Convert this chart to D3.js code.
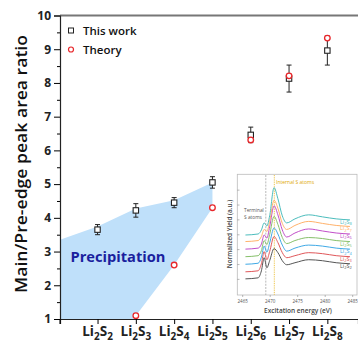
<!DOCTYPE html>
<html>
<head>
<meta charset="utf-8">
<script src="https://cdn.jsdelivr.net/npm/d3@7"></script>
<style>
  body { margin: 0; background: #fff; }
  svg { display: block; font-family: "Open Sans", sans-serif; }
</style>
</head>
<body>
<script>
// main chart data
var categories = ["S2", "S3", "S4", "S5", "S6", "S7", "S8"];
var thisWork = [3.65, 4.22, 4.45, 5.05, 6.46, 8.13, 8.96];
var thisWorkErr = [0.15, 0.2, 0.15, 0.17, 0.23, 0.4, 0.43];
var theory = [null, 1.1, 2.6, 4.3, 6.31, 8.21, 9.33];
var precipitation = [[-0.98, 3.35], [0, 3.74], [1, 4.28], [2, 4.52], [3, 5.05], [3, 4.3], [2, 2.6], [1, 1.1], [0.93, 1], [-0.98, 1]];
var yMajor = [1, 2, 3, 4, 5, 6, 7, 8, 9, 10];
var yMinor = [1.5, 2.5, 3.5, 4.5, 5.5, 6.5, 7.5, 8.5, 9.5];

// inset (XANES spectra) data
var energy = [2465.5, 2467.8, 2468.4, 2468.9, 2469.4, 2469.9, 2470.7, 2471.4, 2472.2, 2473.0, 2474.5, 2477.0, 2479.5, 2482.0, 2484.5];
var yieldS2 = [1.6, 1.7, 2.4, 3.7, 2.7, 3.4, 4.6, 4.2, 3.4, 3.0, 3.2, 3.5, 3.4, 3.2, 3.1];
var yieldS3 = [2.3, 2.4, 3.1, 4.3, 3.5, 4.3, 5.8, 5.2, 4.2, 3.7, 3.9, 4.2, 4.1, 3.9, 3.8];
var yieldS4 = [3.05, 3.15, 3.75, 4.85, 4.25, 5.15, 6.65, 6.05, 4.95, 4.35, 4.65, 4.95, 4.85, 4.65, 4.55];
var yieldS5 = [3.8, 3.9, 4.4, 5.4, 5.0, 6.0, 7.8, 7.0, 5.7, 5.1, 5.4, 5.7, 5.6, 5.4, 5.3];
var yieldS6 = [4.55, 4.65, 5.05, 5.95, 5.65, 6.75, 8.85, 7.95, 6.45, 5.75, 6.15, 6.55, 6.35, 6.15, 6.05];
var yieldS7 = [5.3, 5.4, 5.8, 6.5, 6.3, 7.3, 9.4, 8.6, 7.1, 6.5, 6.9, 7.3, 7.1, 6.9, 6.8];
var yieldS8 = [5.95, 6.05, 6.45, 7.15, 6.85, 7.85, 10.65, 9.55, 7.85, 7.15, 7.55, 7.95, 7.75, 7.55, 7.45];
var insetSeries = [
  { name: "S2", values: yieldS2, color: "#555555" },
  { name: "S3", values: yieldS3, color: "#e0575a" },
  { name: "S4", values: yieldS4, color: "#3fa9e6" },
  { name: "S5", values: yieldS5, color: "#86c06a" },
  { name: "S6", values: yieldS6, color: "#c24fc9" },
  { name: "S7", values: yieldS7, color: "#ffb26b" },
  { name: "S8", values: yieldS8, color: "#4cbdbd" }
];
var insetXTicks = [2465, 2470, 2475, 2480, 2485];
var insetYTicks = [1.55, 3.02, 4.5, 5.97, 7.45, 8.92, 10.4];

var W = 358, H = 347;
var svg = d3.select("body").append("svg").attr("width", W).attr("height", H);

var x = d3.scaleLinear().domain([-0.98, 6.8]).range([60, 358]);
var y = d3.scaleLinear().domain([1, 10]).range([319, 15.5]);

// precipitation area
svg.append("path")
  .datum(precipitation)
  .attr("d", d3.line().x(function(d){ return x(d[0]); }).y(function(d){ return y(d[1]); }))
  .attr("fill", "#bfe0fa")
  .attr("stroke", "none");

svg.append("text")
  .attr("x", 118).attr("y", 262)
  .attr("text-anchor", "middle")
  .attr("font-size", 15).attr("font-weight", 700)
  .attr("fill", "#1a1f9e")
  .attr("textLength", 95).attr("lengthAdjust", "spacingAndGlyphs")
  .text("Precipitation");

// top frame line
svg.append("line")
  .attr("x1", 60).attr("x2", W).attr("y1", y(10)).attr("y2", y(10))
  .attr("stroke", "#777").attr("stroke-width", 2);

// y axis
var yAxis = svg.append("g").attr("transform", "translate(60,0)")
  .call(d3.axisLeft(y).tickValues(yMajor).tickSize(6).tickPadding(3).tickFormat(d3.format("d")));
svg.append("g").attr("transform", "translate(60,0)")
  .call(d3.axisLeft(y).tickValues(yMinor).tickSize(3).tickFormat(""))
  .select(".domain").remove();
yAxis.selectAll("text").attr("font-size", 12).attr("font-weight", 700).attr("fill", "#222")
  .attr("font-family", "Open Sans");

// x axis
var xAxis = svg.append("g").attr("transform", "translate(0," + y(1) + ")")
  .call(d3.axisBottom(x).tickValues(d3.range(categories.length)).tickSize(5).tickFormat(""));
svg.append("line").attr("x1", 60).attr("x2", 60).attr("y1", y(1)).attr("y2", y(1) + 5).attr("stroke", "#000");
svg.selectAll("g .domain").attr("stroke", "#222").attr("stroke-width", 1.2);

var catLabel = svg.append("g").selectAll("text").data(categories).enter().append("text")
  .attr("x", function(d, i){ return x(i); })
  .attr("y", 336)
  .attr("text-anchor", "middle")
  .attr("font-size", 13.5).attr("font-weight", 700).attr("fill", "#222");
catLabel.append("tspan").text("Li");
catLabel.append("tspan").attr("font-size", 10).attr("dy", 4).text("2");
catLabel.append("tspan").attr("dy", -4).text("S");
catLabel.append("tspan").attr("font-size", 10).attr("dy", 4).text(function(d){ return d.slice(1); });

// y label
svg.append("text")
  .attr("transform", "translate(27,164) rotate(-90)")
  .attr("text-anchor", "middle")
  .attr("font-size", 16).attr("font-weight", 600).attr("fill", "#111")
  .attr("textLength", 258).attr("lengthAdjust", "spacingAndGlyphs")
  .text("Main/Pre-edge peak area ratio");

// error bars
var eb = svg.append("g").selectAll("g").data(thisWork).enter().append("g").attr("stroke", "#222").attr("stroke-width", 1);
eb.append("line")
  .attr("x1", function(d, i){ return x(i); }).attr("x2", function(d, i){ return x(i); })
  .attr("y1", function(d, i){ return y(d + thisWorkErr[i]); })
  .attr("y2", function(d, i){ return y(d - thisWorkErr[i]); });
[1, -1].forEach(function(s){
  eb.append("line")
    .attr("x1", function(d, i){ return x(i) - 2.5; }).attr("x2", function(d, i){ return x(i) + 2.5; })
    .attr("y1", function(d, i){ return y(d + s * thisWorkErr[i]); })
    .attr("y2", function(d, i){ return y(d + s * thisWorkErr[i]); });
});

// squares
svg.append("g").selectAll("rect").data(thisWork).enter().append("rect")
  .attr("x", function(d, i){ return x(i) - 2.7; })
  .attr("y", function(d){ return y(d) - 2.7; })
  .attr("width", 5.4).attr("height", 5.4)
  .attr("fill", "#fff").attr("stroke", "#222").attr("stroke-width", 1.1);

// theory circles
svg.append("g").selectAll("circle").data(theory).enter()
  .filter(function(d){ return d != null; })
  .append("circle")
  .attr("cx", function(d){ return x(theory.indexOf(d)); })
  .attr("cy", function(d){ return y(d); })
  .attr("r", 2.8)
  .attr("fill", "#fff").attr("stroke", "#e8262a").attr("stroke-width", 1.3);

// legend
svg.append("rect").attr("x", 68.5).attr("y", 28).attr("width", 5).attr("height", 5)
  .attr("fill", "#fff").attr("stroke", "#222").attr("stroke-width", 1);
svg.append("circle").attr("cx", 71).attr("cy", 49.5).attr("r", 2.5)
  .attr("fill", "#fff").attr("stroke", "#e8262a").attr("stroke-width", 1.2);
svg.append("text").attr("x", 83).attr("y", 35).attr("font-size", 11.5).attr("font-weight", 600).attr("fill", "#111").text("This work");
svg.append("text").attr("x", 83).attr("y", 54).attr("font-size", 11.5).attr("font-weight", 600).attr("fill", "#111").text("Theory");

// ---------- inset ----------
var ix = d3.scaleLinear().domain([2465, 2485]).range([242.7, 352.7]);
var iy = d3.scaleLinear().domain([0, 12]).range([295, 174]);
var inset = svg.append("g");
inset.append("rect").attr("x", 237.3).attr("y", 174.3).attr("width", 119.7).attr("height", 120.7)
  .attr("fill", "#fff").attr("stroke", "#bbb").attr("stroke-width", 0.8);

inset.selectAll(".ytick").data(insetYTicks).enter().append("line")
  .attr("x1", 237.3).attr("x2", 239.5)
  .attr("y1", function(d){ return iy(d); }).attr("y2", function(d){ return iy(d); })
  .attr("stroke", "#888").attr("stroke-width", 0.6);
inset.selectAll(".xtick").data(insetXTicks).enter().append("line")
  .attr("x1", function(d){ return ix(d); }).attr("x2", function(d){ return ix(d); })
  .attr("y1", 295).attr("y2", 297)
  .attr("stroke", "#888").attr("stroke-width", 0.6);
inset.selectAll(".xlab").data(insetXTicks).enter().append("text")
  .attr("x", function(d){ return ix(d); }).attr("y", 302.5)
  .attr("text-anchor", "middle").attr("font-size", 4.5).attr("fill", "#555")
  .text(function(d){ return d; });
inset.append("text").attr("x", 298).attr("y", 312.5).attr("text-anchor", "middle")
  .attr("font-size", 6.5).attr("font-weight", 600).attr("fill", "#444").text("Excitation energy (eV)");
inset.append("text").attr("transform", "translate(232,234) rotate(-90)").attr("text-anchor", "middle")
  .attr("font-size", 6.3).attr("font-weight", 600).attr("fill", "#444").text("Normalized Yield (a.u.)");

// reference lines
inset.append("line").attr("x1", ix(2469.2)).attr("x2", ix(2469.2)).attr("y1", 175).attr("y2", 295)
  .attr("stroke", "#999").attr("stroke-width", 0.7).attr("stroke-dasharray", "2,1.2");
inset.append("line").attr("x1", ix(2470.75)).attr("x2", ix(2470.75)).attr("y1", 175).attr("y2", 295)
  .attr("stroke", "#e8b820").attr("stroke-width", 0.8).attr("stroke-dasharray", "1,0.8");
inset.append("text").attr("x", 276).attr("y", 183.5).attr("font-size", 5).attr("fill", "#e0a800").text("Internal S atoms");
inset.append("text").attr("x", 244).attr("y", 212).attr("font-size", 4.8).attr("fill", "#555").text("Terminal");
inset.append("text").attr("x", 244).attr("y", 219).attr("font-size", 4.8).attr("fill", "#555").text("S atoms");

var spec = d3.line()
  .x(function(d, i){ return ix(energy[i]); })
  .y(function(d){ return iy(d); })
  .curve(d3.curveMonotoneX);
inset.selectAll(".spec").data(insetSeries).enter().append("path")
  .attr("d", function(s){ return spec(s.values); })
  .attr("fill", "none")
  .attr("stroke", function(s){ return s.color; })
  .attr("stroke-width", 1);

var il = inset.selectAll(".lab").data(insetSeries).enter().append("text")
  .attr("x", 340)
  .attr("y", function(s){ return iy(s.values[s.values.length - 1]) + 4; })
  .attr("font-size", 5.5).attr("fill", function(s){ return s.color; });
il.append("tspan").text("Li");
il.append("tspan").attr("font-size", 4).attr("dy", 1.5).text("2");
il.append("tspan").attr("dy", -1.5).text("S");
il.append("tspan").attr("font-size", 4).attr("dy", 1.5).text(function(s){ return s.name.slice(1); });
</script>
</body>
</html>
